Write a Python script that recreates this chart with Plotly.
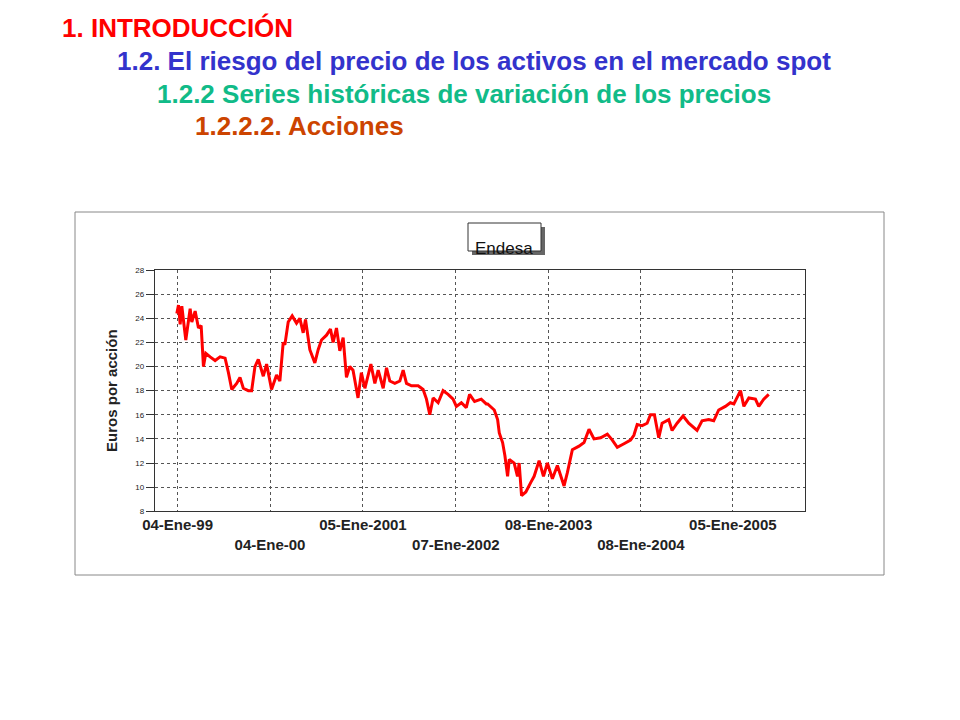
import plotly.graph_objects as go
import pandas as pd

years = [1999.00,1999.018,1999.036,1999.054,1999.097,1999.144,1999.162,1999.198,1999.234,1999.263,1999.288,1999.313,1999.360,1999.414,1999.468,1999.522,1999.558,1999.594,1999.647,1999.683,1999.719,1999.773,1999.809,1999.845,1999.881,1999.935,1999.971,2000.025,2000.079,2000.115,2000.151,2000.169,2000.205,2000.248,2000.295,2000.331,2000.367,2000.392,2000.439,2000.493,2000.529,2000.565,2000.619,2000.662,2000.691,2000.727,2000.763,2000.799,2000.835,2000.871,2000.906,2000.960,2000.996,2001.032,2001.097,2001.140,2001.176,2001.230,2001.266,2001.302,2001.356,2001.410,2001.446,2001.482,2001.536,2001.608,2001.662,2001.698,2001.734,2001.770,2001.824,2001.878,2001.932,2001.986,2002.022,2002.076,2002.129,2002.165,2002.219,2002.291,2002.345,
         2002.360,2002.432,2002.468,2002.486,2002.522,2002.547,2002.576,2002.594,2002.647,2002.683,2002.701,2002.727,2002.773,2002.827,2002.863,2002.917,2002.964,2003.007,2003.061,2003.115,2003.187,2003.223,2003.277,2003.349,2003.403,2003.457,2003.511,2003.583,2003.655,2003.709,2003.763,2003.835,2003.906,2003.942,2003.978,2004.032,2004.086,2004.122,2004.165,2004.212,2004.248,2004.320,2004.356,2004.410,2004.475,2004.536,2004.626,2004.680,2004.752,2004.806,2004.860,2004.932,2004.986,2005.022,2005.094,2005.130,2005.184,2005.255,2005.291,2005.345,2005.399]
prices = [24.4,25.1,23.5,25.0,22.2,24.8,23.7,24.6,23.2,23.4,20.0,21.1,20.8,20.5,20.8,20.7,19.5,18.1,18.6,19.1,18.2,18.0,18.0,20.0,20.6,19.2,20.2,18.1,19.3,18.8,22.0,21.8,23.7,24.2,23.6,24.0,22.8,23.9,21.4,20.3,21.4,22.2,22.6,23.1,22.0,23.2,21.3,22.4,19.1,20.0,19.7,17.4,19.5,18.2,20.2,18.6,19.7,18.2,19.9,18.8,18.6,18.8,19.7,18.6,18.4,18.4,18.1,17.3,16.0,17.4,17.0,18.0,17.7,17.3,16.7,17.0,16.6,17.7,17.1,17.3,16.9,
          16.9,16.4,15.6,14.5,13.7,12.6,10.9,12.3,12.0,10.9,12.0,9.3,9.6,10.4,10.9,12.2,10.9,12.0,10.7,11.8,10.1,11.2,13.1,13.4,13.7,14.8,14.0,14.1,14.4,13.9,13.3,13.6,13.9,14.3,15.2,15.1,15.3,16.0,16.0,14.1,15.3,15.6,14.7,15.3,15.9,15.3,14.7,15.5,15.6,15.5,16.4,16.7,17.0,16.9,18.0,16.7,17.4,17.3,16.7,17.3,17.7]
tick_dates = ["1999-01-04","2000-01-04","2001-01-05","2002-01-07","2003-01-08","2004-01-08","2005-01-05"]
tick_labels = ["<b>04-Ene-99</b>","<br><b>04-Ene-00</b>","<b>05-Ene-2001</b>","<br><b>07-Ene-2002</b>",
               "<b>08-Ene-2003</b>","<br><b>08-Ene-2004</b>","<b>05-Ene-2005</b>"]
y_ticks = list(range(8, 29, 2))

def yr2date(y):
    yi = int(y)
    start = pd.Timestamp(f"{yi}-01-01")
    return start + pd.Timedelta(days=(y - yi) * 365.25)

dates = [yr2date(y) for y in years]

fig = go.Figure(go.Scatter(x=dates, y=prices, mode="lines",
                           line=dict(color="#ff0000", width=3), hoverinfo="skip"))

F = "Liberation Sans, Arial"
fig.update_layout(
    width=960, height=720, margin=dict(l=0, r=0, t=0, b=0),
    paper_bgcolor="white", plot_bgcolor="white", showlegend=False,
    xaxis=dict(domain=[0.153, 0.830], range=[yr2date(1998.762), yr2date(2005.789)],
               automargin=False,
               tickvals=tick_dates, ticktext=tick_labels, showgrid=True,
               gridcolor="#555", griddash="dot", gridwidth=1,
               showline=True, linecolor="#333", mirror=True, zeroline=False,
               tickfont=dict(family=F, size=15, color="#222"), ticks=""),
    yaxis=dict(domain=[0.301, 0.636], range=[8, 28], tickvals=y_ticks, automargin=False,
               showgrid=True, gridcolor="#555", griddash="dot", gridwidth=1,
               showline=True, linecolor="#333", mirror=True, zeroline=False,
               ticks="outside", ticklen=8, tickcolor="#333",
               tickfont=dict(family=F, size=8, color="#222"),
               title=dict(text="<b>Euros por acción</b>", font=dict(family=F, size=15, color="#222"), standoff=14)),
    shapes=[dict(type="rect", xref="paper", yref="paper", x0=67/960, x1=876/960,
                 y0=1-567/720, y1=1-204/720, line=dict(color="#888", width=1)),
            dict(type="rect", xref="paper", yref="paper", x0=464/960, x1=537/960,
                 y0=1-247/720, y1=1-219/720, line=dict(width=0), fillcolor="#666"),
            dict(type="rect", xref="paper", yref="paper", x0=460/960, x1=533/960,
                 y0=1-243/720, y1=1-215/720, line=dict(color="#333", width=1), fillcolor="white")],
)
titles = [("1. INTRODUCCIÓN", 52, 20, "#ff0000"),
          ("1.2. El riesgo del precio de los activos en el mercado spot", 107, 53, "#3333cc"),
          ("1.2.2 Series históricas de variación de los precios", 147, 86, "#11bb88"),
          ("1.2.2.2. Acciones", 185, 118, "#cc4400")]
for t, x, y, c in titles:
    fig.add_annotation(text=f"<b>{t}</b>", x=x/960, y=1-y/720, xref="paper", yref="paper",
                       xanchor="left", yanchor="middle", showarrow=False,
                       font=dict(family=F, size=26, color=c))
fig.add_annotation(text="Endesa", x=496/960, y=1-229/720, xref="paper", yref="paper",
                   showarrow=False, font=dict(family=F, size=17, color="#111"))
fig.write_html("out.html")
